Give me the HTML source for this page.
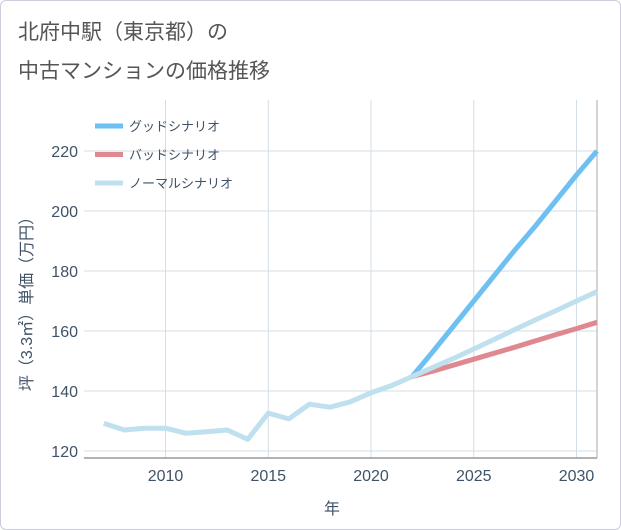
<!DOCTYPE html>
<html><head><meta charset="utf-8"><style>
body{margin:0;background:#fff;font-family:"Liberation Sans","Noto Sans CJK JP",sans-serif}
#card{position:absolute;left:0;top:0;width:619px;height:528px;border:1px solid #ccd;border-radius:6px;background:#fff}
</style></head><body>
<div id="card">
<svg id="chart" width="621" height="530" style="position:absolute;left:-1px;top:-1px">
<text x="18" y="39" font-size="21" fill="#555">北府中駅（東京都）の</text>
<text x="18" y="78" font-size="21" fill="#555">中古マンションの価格推移</text>
<text transform="translate(32,300) rotate(-90)" text-anchor="middle" font-size="16" fill="#3f5266">坪（3.3㎡）単価（万円）</text>
<text x="332" y="514" text-anchor="middle" font-size="16" fill="#3f5266">年</text>
<g id="grid"></g><g id="series"></g><g id="legend"></g>
</svg>
</div>
<script>
const years=[2007,2008,2009,2010,2011,2012,2013,2014,2015,2016,2017,2018,2019,2020,2021,2022];
const histValues=[129.2,127,127.6,127.6,125.9,126.4,127,123.9,132.6,130.7,135.6,134.6,136.4,139.4,141.8,144.8];
const futureYears=[2022,2023,2024,2025,2026,2027,2028,2029,2030,2031];
const goodValues=[144.8,153,161.5,170,178.5,187,195,203.5,212,220];
const badValues=[144.8,146.6,148.6,150.6,152.6,154.6,156.7,158.8,160.8,162.9];
const normalValues=[144.8,147.8,150.8,154,157.2,160.5,163.7,166.8,170,173.1];
const xTicks=[2010,2015,2020,2025,2030];
const yTicks=[120,140,160,180,200,220];
const legendLabels=["グッドシナリオ","バッドシナリオ","ノーマルシナリオ"];
const legendColors=["#6ec0f3","#e08890","#bfe0ee"];
const NS="http://www.w3.org/2000/svg";
const L=84,R=597,T=100,B=458;
const x=v=>371+20.55*(v-2020);
const y=v=>451-3*(v-120);
function mk(t,a,p){const e=document.createElementNS(NS,t);for(const k in a)e.setAttribute(k,a[k]);p.appendChild(e);return e;}
const g=document.getElementById('grid');
yTicks.forEach(v=>{
 const l=mk('line',{x1:L,x2:R,y1:y(v),y2:y(v),stroke:'#d3dde6','stroke-width':1},g);
 
 
 const t=mk('text',{x:L-6,y:y(v)+6,'text-anchor':'end','font-size':16,fill:'#3f5266'},g);
 t.textContent=v;
 
 
});
xTicks.forEach(v=>{
 const l=mk('line',{x1:x(v),x2:x(v),y1:T,y2:B,stroke:'#d3dde6','stroke-width':1},g);
 
 
 const t=mk('text',{x:x(v),y:B+23,'text-anchor':'middle','font-size':16,fill:'#3f5266'},g);
 t.textContent=v;
 
 
});
const ax=mk('line',{x1:L,x2:R,y1:B,y2:B,stroke:'#999','stroke-width':1.5},g);


const rx=mk('line',{x1:R,x2:R,y1:T,y2:B,stroke:'#aaa','stroke-width':1},g);


const s=document.getElementById('series');
function path(xs,vs,c,name){
 const d=xs.map((v,i)=>(i?'L':'M')+x(v).toFixed(1)+','+y(vs[i]).toFixed(1)).join('');
 const p=mk('path',{d:d,fill:'none',stroke:c,'stroke-width':5,'stroke-linejoin':'round'},s);
 
 
}
path(futureYears,goodValues,legendColors[0],'good-scenario-line');
path(futureYears,badValues,legendColors[1],'bad-scenario-line');
path(futureYears,normalValues,legendColors[2],'normal-scenario-line');
path(years,histValues,legendColors[2],'historical-price-line');
const lg=document.getElementById('legend');
legendLabels.forEach((lab,i)=>{
 const yy=126+28.5*i;
 const l=mk('line',{x1:95,x2:123,y1:yy,y2:yy,stroke:legendColors[i],'stroke-width':5},lg);
 
 
 const t=mk('text',{x:129,y:yy+5,'font-size':13,fill:'#3f5266'},lg);
 t.textContent=lab;
 
 
});
</script>
</body></html>
